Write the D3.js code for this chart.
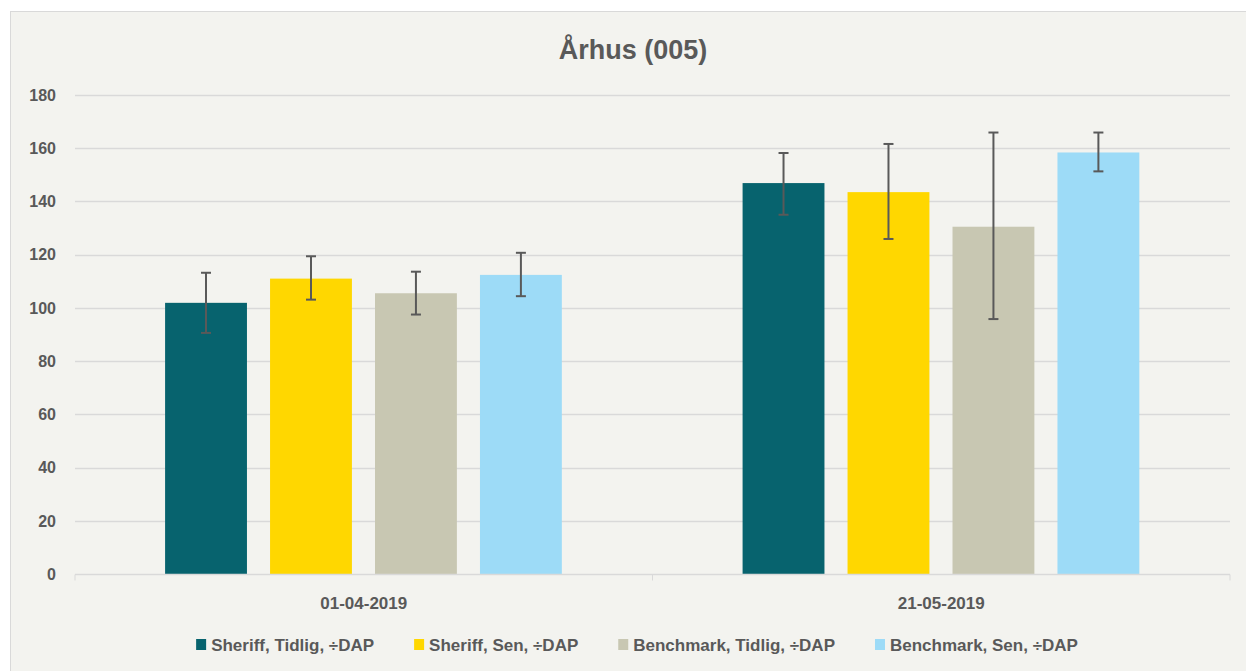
<html>

<head>
    <meta charset="utf-8">
    <title>Århus (005)</title>
    <style>
        body { margin: 0; background: #ffffff; }
        text { font-family: "Liberation Sans", Arial, sans-serif; font-weight: bold; fill: #595959; }
    </style>
</head>

<body>
    <script src="https://cdn.jsdelivr.net/npm/d3@7/dist/d3.min.js" charset="utf-8"></script>
    <script>
        var width = 1246;
        var height = 671;

        // data
        const dates = ["01-04-2019", "21-05-2019"];
        const series = ["Sheriff, Tidlig, ÷DAP", "Sheriff, Sen, ÷DAP", "Benchmark, Tidlig, ÷DAP", "Benchmark, Sen, ÷DAP"];
        const colors = ["#07636e", "#ffd700", "#c8c7b2", "#9ddbf7"];
        const values = [
            [101.9, 111.0, 105.5, 112.4],
            [146.9, 143.5, 130.5, 158.4]
        ];
        const errLow = [
            [90.6, 103.1, 97.5, 104.4],
            [135.0, 125.9, 95.8, 151.3]
        ];
        const errHigh = [
            [113.2, 119.4, 113.6, 120.7],
            [158.2, 161.6, 165.9, 165.9]
        ];
        const yTicks = [0, 20, 40, 60, 80, 100, 120, 140, 160, 180];

        var svg = d3.select("body").append("svg")
            .attr("width", width)
            .attr("height", height);

        // chart frame
        svg.append("rect")
            .attr("x", 10.5).attr("y", 11.5)
            .attr("width", 1240).attr("height", 670)
            .attr("fill", "#f3f3ef")
            .attr("stroke", "#d9d9d9");

        var plotLeft = 75, plotRight = 1230, plotTop = 95, plotBottom = 574;

        const y = d3.scaleLinear().domain([0, 180]).range([plotBottom, plotTop]);
        const x0 = d3.scaleBand().domain(dates).range([plotLeft, plotRight]).padding(0);
        const bw = x0.bandwidth();
        const x1 = d3.scaleBand().domain(series).range([bw * 0.156, bw * 0.843]).paddingInner(0.22).paddingOuter(0);

        // gridlines
        svg.append("g").selectAll("line")
            .data(yTicks.filter(d => d > 0))
            .enter().append("line")
            .attr("x1", plotLeft).attr("x2", plotRight)
            .attr("y1", d => Math.round(y(d)) + 0.5).attr("y2", d => Math.round(y(d)) + 0.5)
            .attr("stroke", "#d9d9d9").attr("stroke-width", 1.5);

        // y labels
        svg.append("g").selectAll("text")
            .data(yTicks)
            .enter().append("text")
            .attr("x", 56).attr("y", d => y(d))
            .attr("dy", "0.36em")
            .attr("text-anchor", "end")
            .attr("font-size", "16px")
            .text(d => d);

        // bars
        var groups = svg.append("g").selectAll("g")
            .data(dates)
            .enter().append("g")
            .attr("transform", d => "translate(" + x0(d) + ",0)");

        groups.selectAll("rect")
            .data((d, i) => values[i].map((v, j) => ({ s: series[j], v: v, j: j })))
            .enter().append("rect")
            .attr("x", d => x1(d.s))
            .attr("width", x1.bandwidth())
            .attr("y", d => y(d.v))
            .attr("height", d => y(0) - y(d.v))
            .attr("fill", d => colors[d.j]);

        // error bars
        var eb = groups.selectAll(".err")
            .data((d, i) => series.map((s, j) => ({ s: s, lo: errLow[i][j], hi: errHigh[i][j] })))
            .enter().append("g")
            .attr("class", "err")
            .attr("transform", d => "translate(" + (x1(d.s) + x1.bandwidth() / 2) + ",0)")
            .attr("stroke", "#595959").attr("stroke-width", 2);
        eb.append("line").attr("x1", 0).attr("x2", 0).attr("y1", d => y(d.hi)).attr("y2", d => y(d.lo));
        eb.append("line").attr("x1", -5).attr("x2", 5).attr("y1", d => y(d.hi)).attr("y2", d => y(d.hi));
        eb.append("line").attr("x1", -5).attr("x2", 5).attr("y1", d => y(d.lo)).attr("y2", d => y(d.lo));

        // x axis
        var xa = svg.append("g").attr("transform", "translate(0," + (plotBottom + 0.5) + ")");
        xa.append("line").attr("x1", plotLeft).attr("x2", plotRight).attr("stroke", "#d9d9d9").attr("stroke-width", 1.5);
        xa.selectAll(".tk")
            .data([plotLeft, x0(dates[1]), plotRight])
            .enter().append("line")
            .attr("x1", d => d).attr("x2", d => d)
            .attr("y1", 0).attr("y2", 6)
            .attr("stroke", "#d9d9d9");
        xa.selectAll("text")
            .data(dates)
            .enter().append("text")
            .attr("x", d => x0(d) + bw / 2)
            .attr("y", 34)
            .attr("text-anchor", "middle")
            .attr("font-size", "17px")
            .text(d => d);

        // title
        svg.append("text")
            .attr("x", 633).attr("y", 59)
            .attr("text-anchor", "middle")
            .attr("font-size", "27px")
            .text("Århus (005)");

        // legend
        var leg = svg.append("g");
        var items = leg.selectAll("g")
            .data(series)
            .enter().append("g");
        items.append("rect")
            .attr("width", 10).attr("height", 11)
            .attr("y", -6)
            .attr("fill", (d, i) => colors[i]);
        items.append("text")
            .attr("x", 15)
            .attr("dy", "0.36em")
            .attr("font-size", "17px")
            .text(d => d);
        var pos = 0, offs = [];
        items.each(function (d) {
            offs.push(pos);
            pos += 15 + this.querySelector("text").getComputedTextLength() + 40;
        });
        var total = pos - 40;
        var startX = 637 - total / 2;
        items.attr("transform", (d, i) => "translate(" + (startX + offs[i]) + ",645)");
    </script>
</body>

</html>
